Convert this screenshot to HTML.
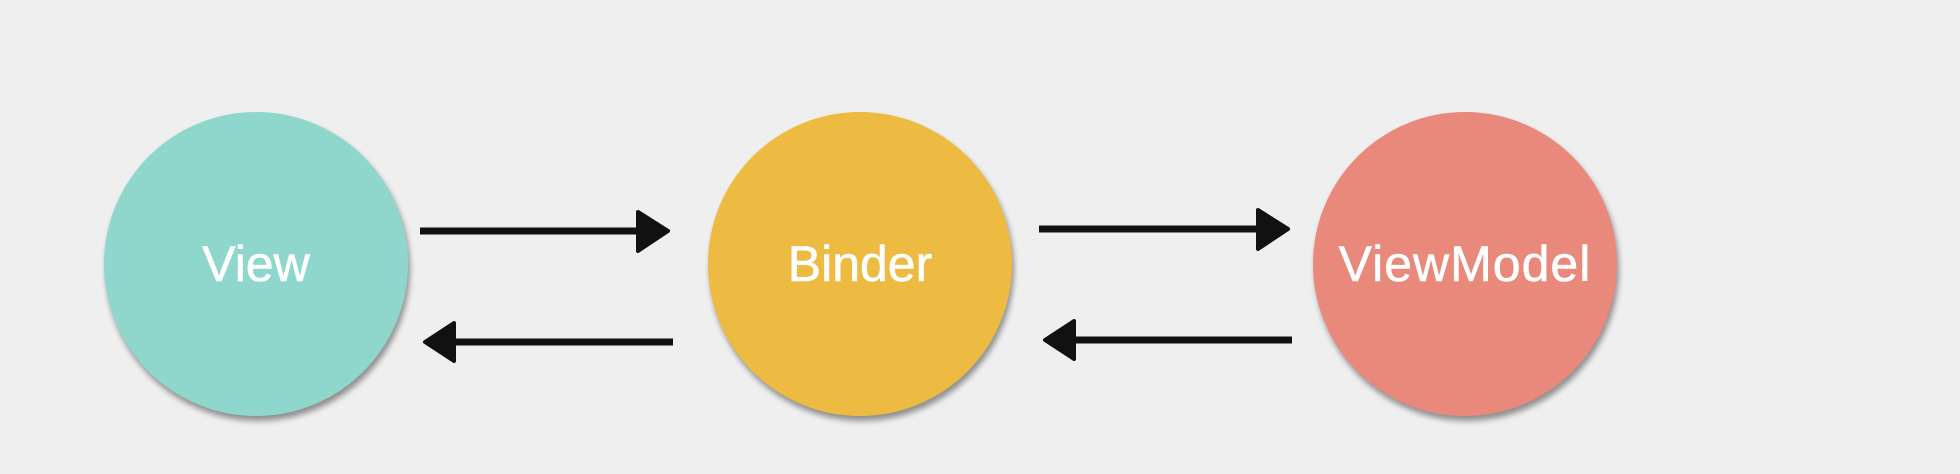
<!DOCTYPE html>
<html><head><style>
html,body{margin:0;padding:0;background:#efefef;}
body{width:1960px;height:474px;overflow:hidden;position:relative;font-family:"Liberation Sans",sans-serif;}
.c{position:absolute;width:304px;height:304px;border-radius:50%;top:112px;box-shadow:2px 5px 6px rgba(0,0,0,0.4);color:#fff;font-size:50px;display:flex;align-items:center;justify-content:center;-webkit-text-stroke:0.6px #fff;}
</style></head><body>
<div class="c" style="left:104px;background:#8fd7cc">View</div>
<div class="c" style="left:708px;background:#eebb42">Binder</div>
<div class="c" style="left:1313px;background:#e8897b;letter-spacing:1px">ViewModel</div>
<svg width="1960" height="474" style="position:absolute;left:0;top:0">
<g fill="#111" stroke="#111" stroke-linejoin="round">
<line x1="420" y1="231" x2="645" y2="231" stroke-width="7"/>
<polygon points="638,212 668,231 638,251" stroke-width="4"/>
<line x1="447" y1="342" x2="673" y2="342" stroke-width="7"/>
<polygon points="454,323 425,342 454,361" stroke-width="4"/>
<line x1="1039" y1="229" x2="1265" y2="229" stroke-width="7"/>
<polygon points="1258,210 1288,229 1258,249" stroke-width="4"/>
<line x1="1067" y1="340" x2="1292" y2="340" stroke-width="7"/>
<polygon points="1074,321 1045,340 1074,359" stroke-width="4"/>
</g>
</svg>
</body></html>
